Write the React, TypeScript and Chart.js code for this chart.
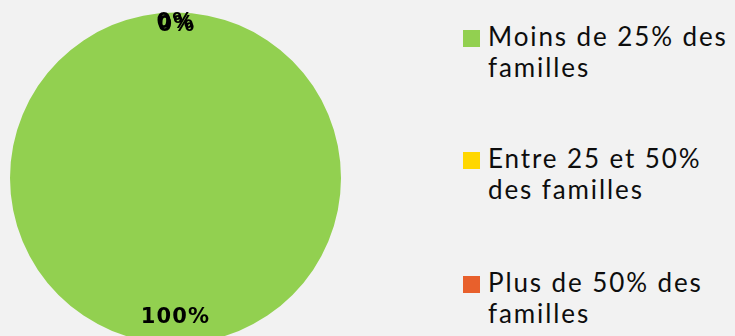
import React, { useEffect, useRef } from "react";
import { Chart, registerables } from "chart.js";

Chart.register(...registerables);

const categories = ["Moins de 25% des familles", "Entre 25 et 50% des familles", "Plus de 50% des familles"];
const legendLines = [["Moins de 25% des", "familles"], ["Entre 25 et 50%", "des familles"], ["Plus de 50% des", "familles"]];
const values = [100, 0, 0];
const colors = ["#92d050", "#ffd700", "#e8602c"];

const FONT = "Lato, 'Open Sans', sans-serif";

const labelPlugin = {
  id: "pieLabels",
  afterDatasetsDraw(chart: any) {
    const ctx = chart.ctx;
    const meta = chart.getDatasetMeta(0);
    const data = chart.data.datasets[0].data as number[];
    const total = data.reduce((a, b) => a + b, 0);
    ctx.save();
    ctx.font = `bold 21px 'DejaVu Sans', sans-serif`;
    try { (ctx as any).letterSpacing = "1.2px"; } catch (e) {}
    ctx.fillStyle = "#000";
    ctx.textAlign = "center";
    ctx.textBaseline = "middle";
    meta.data.forEach((arc: any, i: number) => {
      const { x, y, startAngle, endAngle, outerRadius } = arc.getProps(["x", "y", "startAngle", "endAngle", "outerRadius"], true);
      const mid = (startAngle + endAngle) / 2;
      const pct = Math.round((data[i] / total) * 100);
      const f = pct === 0 ? 0.94 : 0.845;
      const dy = i === 2 ? 3 : 0;
      const dx = i === 2 ? 1 : 0;
      ctx.fillText(pct + "%", x + Math.cos(mid) * outerRadius * f + dx, y + Math.sin(mid) * outerRadius * f + dy);
    });
    ctx.restore();
  },
};

export default function App() {
  const ref = useRef<HTMLCanvasElement>(null);
  useEffect(() => {
    document.body.style.margin = "0";
    document.body.style.background = "#f2f2f2";
    document.body.style.overflow = "hidden";
    document.documentElement.style.background = "#f2f2f2";
    const chart = new Chart(ref.current!, {
      type: "pie",
      data: {
        labels: categories,
        datasets: [{ data: values, backgroundColor: colors, borderWidth: 0 }],
      },
      options: {
        animation: false,
        responsive: false,
        maintainAspectRatio: false,
        layout: { padding: 10 },
        plugins: { legend: { display: false }, tooltip: { enabled: false } },
      },
      plugins: [labelPlugin],
    });
    return () => chart.destroy();
  }, []);

  const tops = [21, 143, 267];
  return (
    <div style={{ position: "relative", width: 735, height: 336, overflow: "hidden", background: "#f2f2f2" }}>
      <canvas ref={ref} width={351} height={356} style={{ position: "absolute", left: 0, top: 0 }} />
      {legendLines.map((lines, i) => (
        <div key={i} style={{ position: "absolute", left: 463, top: tops[i], display: "flex", alignItems: "flex-start" }}>
          <div style={{ width: 17, height: 17, background: colors[i], marginTop: 9, marginRight: 8 }} />
          <div style={{ fontFamily: FONT, fontSize: 26, lineHeight: "31px", letterSpacing: "1.9px", color: "#0d0d0d", whiteSpace: "nowrap" }}>
            {lines.map((l, j) => (
              <div key={j}>{l}</div>
            ))}
          </div>
        </div>
      ))}
    </div>
  );
}
